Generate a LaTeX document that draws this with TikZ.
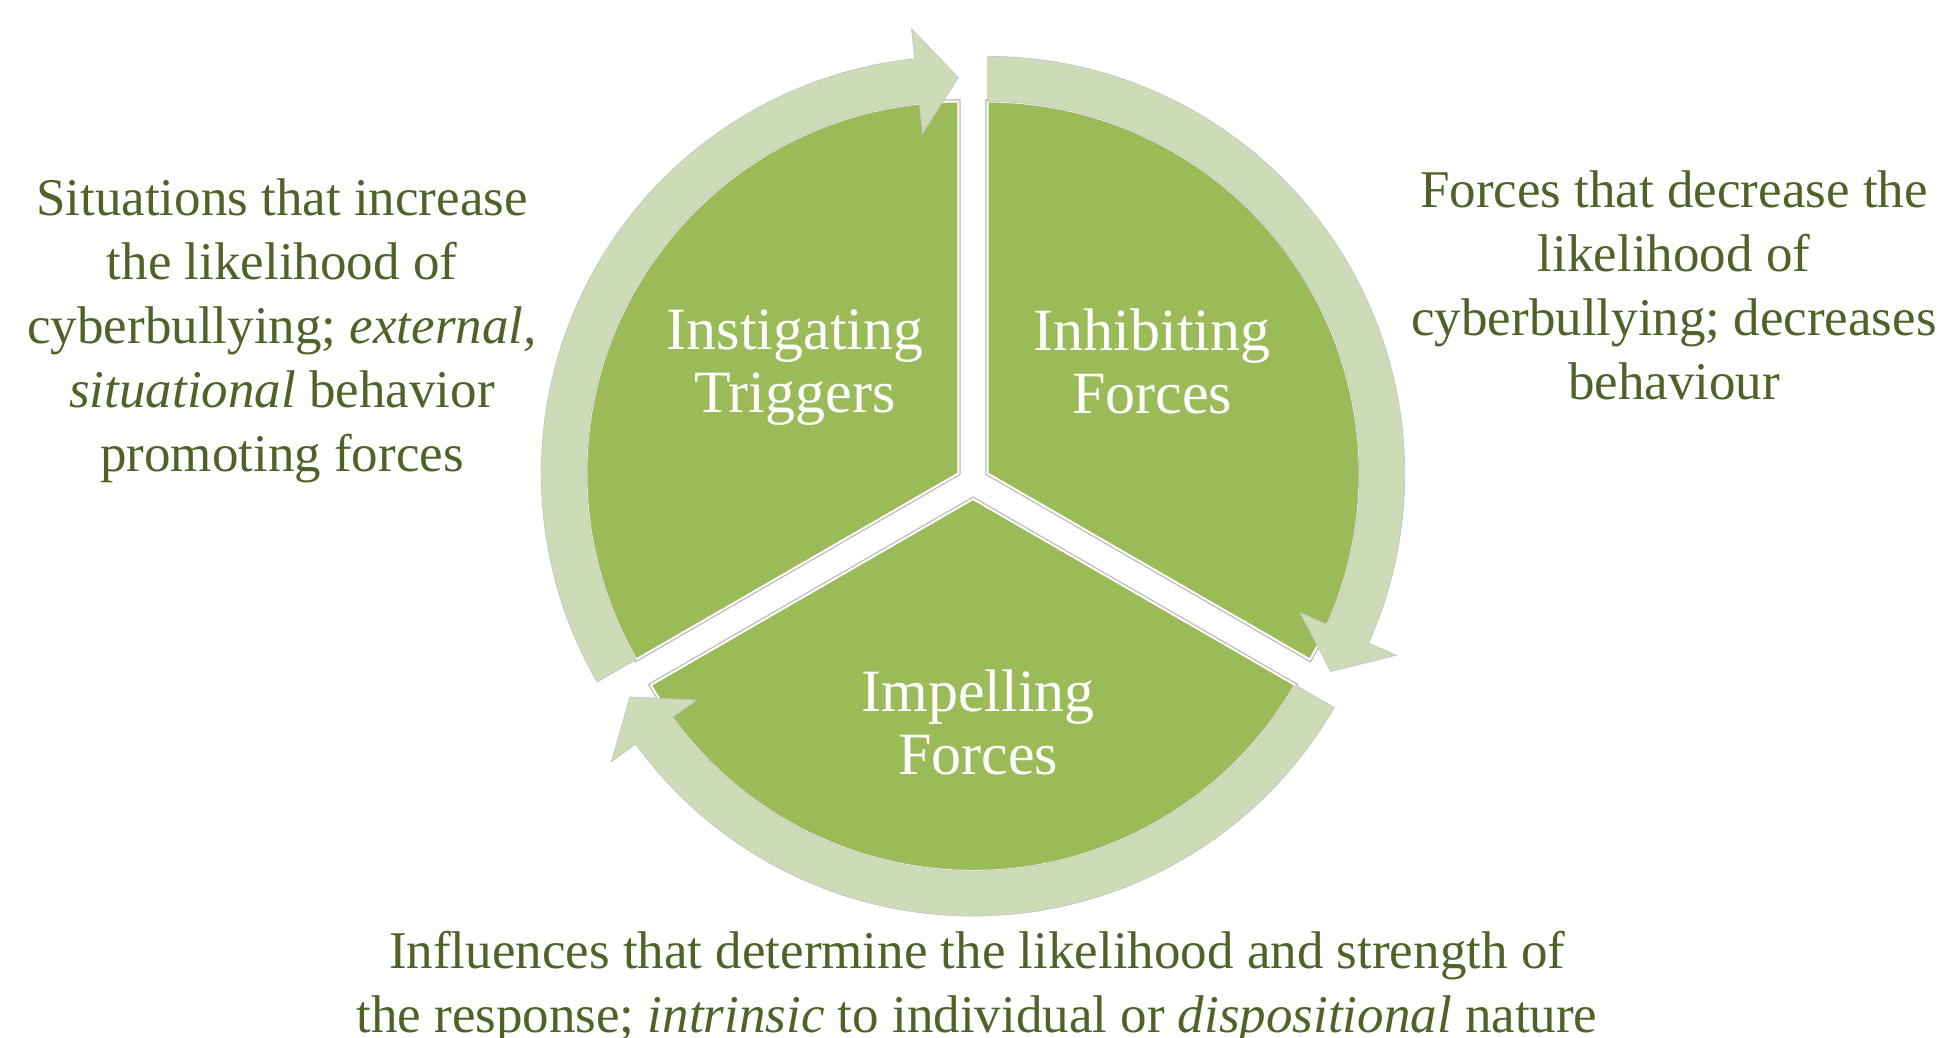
\documentclass[tikz,border=0pt]{standalone}
\usepackage{fontspec}
\setmainfont{Liberation Serif}
\usetikzlibrary{calc}
\definecolor{segfill}{HTML}{9BBB59}
\definecolor{bandfill}{HTML}{CDDBB7}
\definecolor{textgreen}{HTML}{4F6228}
\begin{document}
\begin{tikzpicture}[x=1pt,y=1pt,
  segshadow/.style={draw=black!28, line width=4.5pt, line join=miter},
  segment/.style={fill=segfill, draw=white, line width=2pt, line join=miter},
  band/.style={fill=bandfill, draw=black!22, line width=0.8pt, line join=miter},
  seglabel/.style={text=white, align=center, inner sep=0pt, font=\fontsize{60}{63}\selectfont},
  sidelabel/.style={text=textgreen, align=center, inner sep=0pt, font=\fontsize{53}{64}\selectfont}]
\useasboundingbox (0,0) rectangle (1941,1037);

% hub and the three exploded segment vertices
\coordinate (C) at (973,555);
\coordinate (VL) at ($(C)+(150:17)$);
\coordinate (VR) at ($(C)+(30:17)$);
\coordinate (VB) at ($(C)+(270:17)$);
\def\R{372}

% pie segments
\foreach \v/\a/\b in {VL/90/210, VR/-30/90, VB/210/330}{
  \path[segshadow] (\v) -- ++(\a:\R) arc[start angle=\a, end angle=\b, radius=\R] -- cycle;
  \path[segment] (\v) -- ++(\a:\R) arc[start angle=\a, end angle=\b, radius=\R] -- cycle;
}

% curved arrows running clockwise round each segment
\foreach \v/\s in {VL/210, VR/90, VB/330}{
  \begin{scope}[shift={(\v)}]
    \pgfmathsetmacro{\base}{\s-114}
    \pgfmathsetmacro{\tip}{\s-120}
    \path[band] (\s:417) arc[start angle=\s, end angle=\base, radius=417]
      -- (\base:447) -- (\tip:396) -- (\base:342) -- (\base:372)
      arc[start angle=\base, end angle=\s, radius=372] -- cycle;
  \end{scope}
}

% segment titles
\node[seglabel] (inst) at (795,669) {Instigating\\Triggers};
\node[seglabel] (inhib) at (1152,676) {Inhibiting\\Forces};
\node[seglabel] (impel) at (978,315) {Impelling\\Forces};

% descriptions
\node[sidelabel] (instdesc) at (282,706) {Situations that increase\\the likelihood of\\cyberbullying; \textit{external,}\\\textit{situational} behavior\\promoting forces};
\node[sidelabel] (inhibdesc) at (1674,752) {Forces that decrease the\\likelihood of\\cyberbullying; decreases\\behaviour};
\node[sidelabel] (impeldesc) at (977,50) {Influences that determine the likelihood and strength of\\the response; \textit{intrinsic} to individual or \textit{dispositional} nature};
\end{tikzpicture}
\end{document}
